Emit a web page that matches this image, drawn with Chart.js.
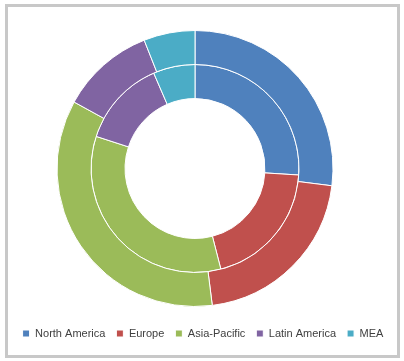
<!DOCTYPE html>
<html>
<head>
<meta charset="utf-8">
<script src="https://cdn.jsdelivr.net/npm/chart.js@4.4.0/dist/chart.umd.min.js"></script>
<style>
  html, body { margin: 0; padding: 0; background: #fff; }
  #wrap { position: relative; width: 404px; height: 361px; }
  #chart { position: absolute; left: 0; top: 0; }
  #frame { position: absolute; left: 5px; top: 4px; width: 389px; height: 348px; border: 3px solid #c8c8c8; pointer-events: none; }
</style>
</head>
<body>
<div id="wrap">
  <canvas id="chart" width="404" height="361"></canvas>
  <div id="frame"></div>
</div>
<script>
var regions = ['North America', 'Europe', 'Asia-Pacific', 'Latin America', 'MEA'];
var outerShare = [27, 21, 35, 11, 6];
var innerShare = [26, 20, 34, 13.5, 6.5];
var regionColors = ['#4F81BD', '#C0504D', '#9BBB59', '#8064A2', '#4BACC6'];

// the legend in the original sits lower and a bit right of the rings centre
var legendShift = {
    id: 'legendShift',
    afterLayout: function(chart){
        var lg = chart.legend;
        lg.left += 8;
        lg.right += 8;
        lg.top += 10;
        lg.bottom += 10;
    }
};

new Chart(document.getElementById('chart').getContext('2d'), {
    type: 'doughnut',
    data: {
        labels: regions,
        datasets: [
            {
                data: outerShare,
                backgroundColor: regionColors,
                borderColor: '#fff',
                borderWidth: 1
            },
            {
                data: innerShare,
                backgroundColor: regionColors,
                borderColor: '#fff',
                borderWidth: 1
            }
        ]
    },
    options: {
        responsive: false,
        animation: false,
        cutout: '50.7%',
        layout: {
            padding: {top: 30, left: 0, right: 14, bottom: 22}
        },
        plugins: {
            tooltip: {enabled: false},
            legend: {
                position: 'bottom',
                labels: {
                    boxWidth: 7,
                    boxHeight: 7,
                    padding: 11,
                    color: '#404040',
                    font: {family: 'Liberation Sans', size: 11}
                }
            }
        }
    },
    plugins: [legendShift]
});
</script>
</body>
</html>
